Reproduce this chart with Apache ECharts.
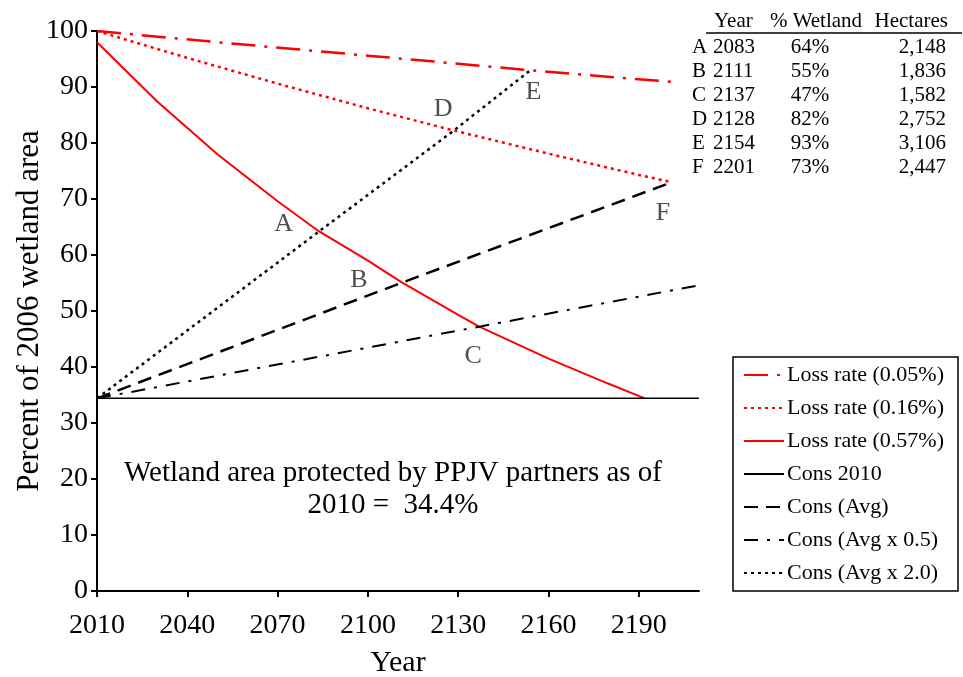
<!DOCTYPE html>
<html>
<head>
<meta charset="utf-8">
<script src="https://cdn.jsdelivr.net/npm/echarts@6/dist/echarts.min.js"></script>
<style>html,body{margin:0;padding:0;background:#fff}#c{width:963px;height:677px}</style>
</head>
<body>
<div id="c"></div>
<script>
// ---- data ----
var xTicks = [2010, 2040, 2070, 2100, 2130, 2160, 2190];
var loss005 = [[2010, 100], [2050, 98.0], [2100, 95.6], [2154, 93.0], [2201, 90.9]];
var loss016 = [[2010, 100], [2040, 95.2], [2070, 90.6], [2100, 86.2], [2128, 82.3], [2160, 78.1], [2190, 74.3], [2201, 73.0]];
var loss057 = [[2010, 98.0], [2030, 87.4], [2050, 78.0], [2070, 69.6], [2083, 64.5], [2100, 59.0], [2111, 55.2], [2130, 49.3], [2137, 47.2], [2160, 41.5], [2180, 37.0], [2192, 34.4]];
var cons2010 = [[2010, 34.4], [2210, 34.4]];
var consAvg = [[2010, 34.4], [2111, 55.0], [2201, 73.0]];
var consHalf = [[2010, 34.4], [2137, 47.2], [2210, 54.6]];
var consDouble = [[2010, 34.4], [2083, 63.9], [2128, 82.0], [2154, 93.0]];
var pointLabels = [[2072, 65.5, 'A'], [2097, 55.5, 'B'], [2135, 42.0, 'C'], [2125, 86.0, 'D'], [2155, 89.0, 'E'], [2198, 67.5, 'F']];
var tableLetters = ['A', 'B', 'C', 'D', 'E', 'F'];
var tableYears = ['2083', '2111', '2137', '2128', '2154', '2201'];
var tableWetland = ['64%', '55%', '47%', '82%', '93%', '73%'];
var tableHectares = ['2,148', '1,836', '1,582', '2,752', '3,106', '2,447'];
var tableHeader = ['Year', '% Wetland', 'Hectares'];

var SERIF = '"Liberation Serif", "DejaVu Serif", serif';
var RED = '#ff0000';
var BLK = '#000000';

function lineSeries(name, data, color, dash, width) {
  return {
    name: name, type: 'line', data: data, symbol: 'none', showSymbol: false,
    lineStyle: { color: color, width: width || 2, type: dash },
    itemStyle: { color: color },
    z: 3
  };
}

var graphics = [];
var rowY0 = 47, rowStep = 24;
var TF = '21px ' + SERIF;
function tx(x, y, text, align) {
  return { type: 'text', x: x, y: y, style: { text: text, font: TF, fill: BLK, textAlign: align || 'left', textVerticalAlign: 'middle' } };
}
graphics.push(tx(714, 21, tableHeader[0]));
graphics.push(tx(816, 21, tableHeader[1], 'center'));
graphics.push(tx(948, 21, tableHeader[2], 'right'));
graphics.push({ type: 'line', shape: { x1: 706, y1: 33, x2: 962, y2: 33 }, style: { stroke: BLK, lineWidth: 1.5 } });
for (var i = 0; i < tableLetters.length; i++) {
  var y = rowY0 + i * rowStep;
  graphics.push(tx(692, y, tableLetters[i]));
  graphics.push(tx(713, y, tableYears[i]));
  graphics.push(tx(810, y, tableWetland[i], 'center'));
  graphics.push(tx(946, y, tableHectares[i], 'right'));
}
graphics.push({ type: 'text', x: 393, y: 489, style: { text: 'Wetland area protected by PPJV partners as of\n2010 =  34.4%', font: '29px ' + SERIF, fill: BLK, textAlign: 'center', textVerticalAlign: 'middle', lineHeight: 32 } });

var chart = echarts.init(document.getElementById('c'), null, { renderer: 'canvas' });
chart.setOption({
  animation: false,
  backgroundColor: '#fff',
  grid: { left: 97, right: 264, top: 31, bottom: 86, containLabel: false, outerBoundsMode: 'none' },
  xAxis: {
    type: 'value', min: 2010, max: 2210, interval: 30,
    name: 'Year', nameLocation: 'middle', nameGap: 57, nameMoveOverlap: false,
    nameTextStyle: { fontFamily: SERIF, fontSize: 30, color: BLK },
    axisLine: { show: true, lineStyle: { color: BLK, width: 2 } },
    axisTick: { show: true, length: 6, lineStyle: { color: BLK, width: 2 }, customValues: xTicks },
    axisLabel: { fontFamily: SERIF, fontSize: 28, color: BLK, margin: 21, customValues: xTicks, formatter: function (v) { return String(v); } },
    splitLine: { show: false }
  },
  yAxis: {
    type: 'value', min: 0, max: 100, interval: 10,
    name: 'Percent of 2006 wetland area', nameLocation: 'middle', nameGap: 52, nameMoveOverlap: false,
    nameTextStyle: { fontFamily: SERIF, fontSize: 31, color: BLK },
    axisLine: { show: true, lineStyle: { color: BLK, width: 2 } },
    axisTick: { show: true, length: 6, lineStyle: { color: BLK, width: 2 } },
    axisLabel: { fontFamily: SERIF, fontSize: 28, color: BLK, margin: 9 },
    splitLine: { show: false }
  },
  legend: {
    orient: 'vertical', left: 733, top: 357,
    backgroundColor: '#fff', borderColor: BLK, borderWidth: 1.5,
    padding: [7, 14, 7, 10], itemGap: 11, itemWidth: 40, itemHeight: 20,
    itemStyle: { opacity: 0 },
    textStyle: { fontFamily: SERIF, fontSize: 22, color: BLK, padding: [0, 0, 0, -2] },
    data: ['Loss rate (0.05%)', 'Loss rate (0.16%)', 'Loss rate (0.57%)', 'Cons 2010', 'Cons (Avg)', 'Cons (Avg x 0.5)', 'Cons (Avg x 2.0)']
  },
  graphic: graphics,
  series: [
    lineSeries('Loss rate (0.05%)', loss005, RED, [24, 9, 3, 9], 2.5),
    lineSeries('Loss rate (0.16%)', loss016, RED, [3, 4], 2.5),
    lineSeries('Loss rate (0.57%)', loss057, RED, 'solid', 2),
    lineSeries('Cons 2010', cons2010, BLK, 'solid', 1.5),
    lineSeries('Cons (Avg)', consAvg, BLK, [14, 8], 2.5),
    lineSeries('Cons (Avg x 0.5)', consHalf, BLK, [14, 9, 3, 9], 2),
    lineSeries('Cons (Avg x 2.0)', consDouble, BLK, [3, 4], 2.5),
    {
      name: 'labels', type: 'scatter', data: pointLabels, symbolSize: 0, silent: true,
      label: { show: true, position: 'inside', formatter: function (p) { return p.value[2]; }, fontFamily: SERIF, fontSize: 26, color: '#222' },
      z: 4
    }
  ]
});
</script>
</body>
</html>
